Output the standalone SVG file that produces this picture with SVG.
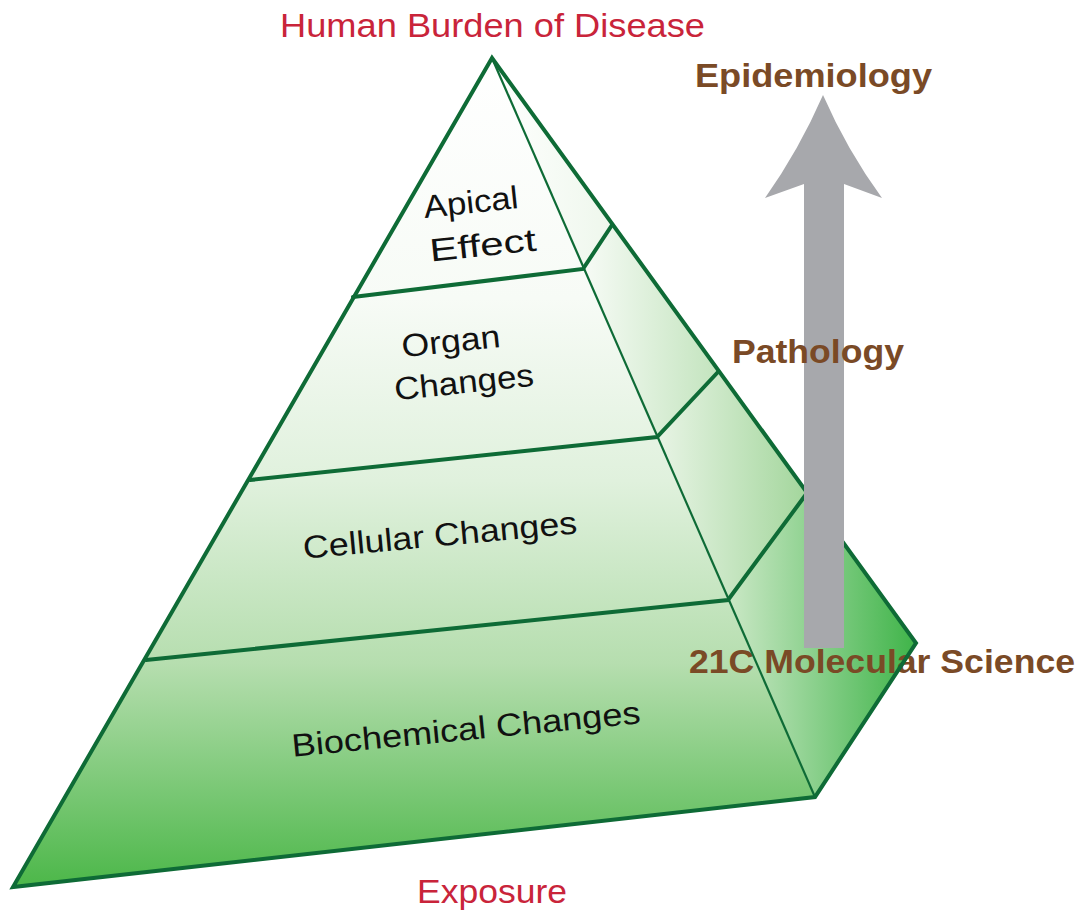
<svg xmlns="http://www.w3.org/2000/svg" width="1090" height="916" viewBox="0 0 1090 916">
<defs>
<linearGradient id="front" gradientUnits="userSpaceOnUse" x1="0" y1="58" x2="0" y2="887">
<stop offset="0" stop-color="#ffffff"/>
<stop offset="0.29" stop-color="#f7fbf6"/>
<stop offset="0.51" stop-color="#e0f1dd"/>
<stop offset="0.73" stop-color="#b6deaf"/>
<stop offset="1" stop-color="#4cb749"/>
</linearGradient>
<linearGradient id="r1" x1="0" y1="0" x2="1" y2="0"><stop offset="0" stop-color="#ffffff"/><stop offset="1" stop-color="#eef7ec"/></linearGradient>
<linearGradient id="r2" x1="0" y1="0" x2="1" y2="0"><stop offset="0" stop-color="#f7fbf6"/><stop offset="1" stop-color="#c3e4be"/></linearGradient>
<linearGradient id="r3" x1="0" y1="0" x2="1" y2="0"><stop offset="0" stop-color="#e8f4e5"/><stop offset="1" stop-color="#a3d69c"/></linearGradient>
<linearGradient id="r4" x1="0" y1="0" x2="1" y2="0"><stop offset="0" stop-color="#cbe8c6"/><stop offset="1" stop-color="#3fb449"/></linearGradient>
<style>
.edge{fill:none;stroke:#0e6b36;stroke-width:4;stroke-linejoin:miter;stroke-linecap:round}
.thin{fill:none;stroke:#0e6b36;stroke-width:2.2}
.lbl{font-family:"Liberation Sans",Arial,sans-serif;font-size:32px;fill:#111111;text-anchor:middle}
.red{font-family:"Liberation Sans",Arial,sans-serif;font-size:33px;fill:#c9243a}
.brown{font-family:"Liberation Sans",Arial,sans-serif;font-size:33px;font-weight:bold;fill:#7a4a26}
</style>
</defs>

<g id="layer-apical">
<polygon points="492,58 353,297 583,269" fill="url(#front)"/>
<polygon points="492,58 583,269 612,225" fill="url(#r1)"/>
</g>
<g id="layer-organ">
<polygon points="353,297 583,269 657,437 250,480" fill="url(#front)"/>
<polygon points="583,269 612,225 718,372 657,437" fill="url(#r2)"/>
</g>
<g id="layer-cellular">
<polygon points="250,480 657,437 728,600 146,660" fill="url(#front)"/>
<polygon points="657,437 718,372 807,493 728,600" fill="url(#r3)"/>
</g>
<g id="layer-biochemical">
<polygon points="146,660 728,600 815,797 13,887" fill="url(#front)"/>
<polygon points="728,600 807,493 916,643 815,797" fill="url(#r4)"/>
</g>

<g id="labels">
<text class="lbl" transform="translate(472,213) rotate(-6)" textLength="95" lengthAdjust="spacingAndGlyphs">Apical</text>
<text class="lbl" transform="translate(484,256) rotate(-6)" textLength="107" lengthAdjust="spacingAndGlyphs">Effect</text>
<text class="lbl" transform="translate(452,352) rotate(-6)" textLength="99" lengthAdjust="spacingAndGlyphs">Organ</text>
<text class="lbl" transform="translate(465,393) rotate(-6)" textLength="140" lengthAdjust="spacingAndGlyphs">Changes</text>
<text class="lbl" transform="translate(441,546) rotate(-5.3)" textLength="275" lengthAdjust="spacingAndGlyphs">Cellular Changes</text>
<text class="lbl" transform="translate(467,740) rotate(-5.5)" textLength="350" lengthAdjust="spacingAndGlyphs">Biochemical Changes</text>
</g>

<text id="molecular" class="brown" x="689" y="673" textLength="386" lengthAdjust="spacingAndGlyphs">21C Molecular Science</text>

<g id="outline">
<polyline class="thin" points="492,58 815,797"/>
<polygon class="edge" points="492,58 13,887 815,797 916,643"/>
<polyline class="edge" points="353,297 583,269 612,225"/>
<polyline class="edge" points="250,480 657,437 718,372"/>
<polyline class="edge" points="146,660 728,600 807,493"/>
</g>

<g id="connectors">
<path d="M823,95 Q799,150 765,198 L804,184 L804,648 L844,648 L844,184 L882,198 Q847,150 823,95 Z" fill="#a7a8ac"/>
</g>

<text id="top" class="red" x="280" y="37" textLength="425" lengthAdjust="spacingAndGlyphs">Human Burden of Disease</text>
<text id="bottom" class="red" x="417" y="903" textLength="150" lengthAdjust="spacingAndGlyphs">Exposure</text>
<text id="epi" class="brown" x="695" y="87" textLength="237" lengthAdjust="spacingAndGlyphs">Epidemiology</text>
<text id="path" class="brown" x="732" y="363" textLength="172" lengthAdjust="spacingAndGlyphs">Pathology</text>
</svg>
